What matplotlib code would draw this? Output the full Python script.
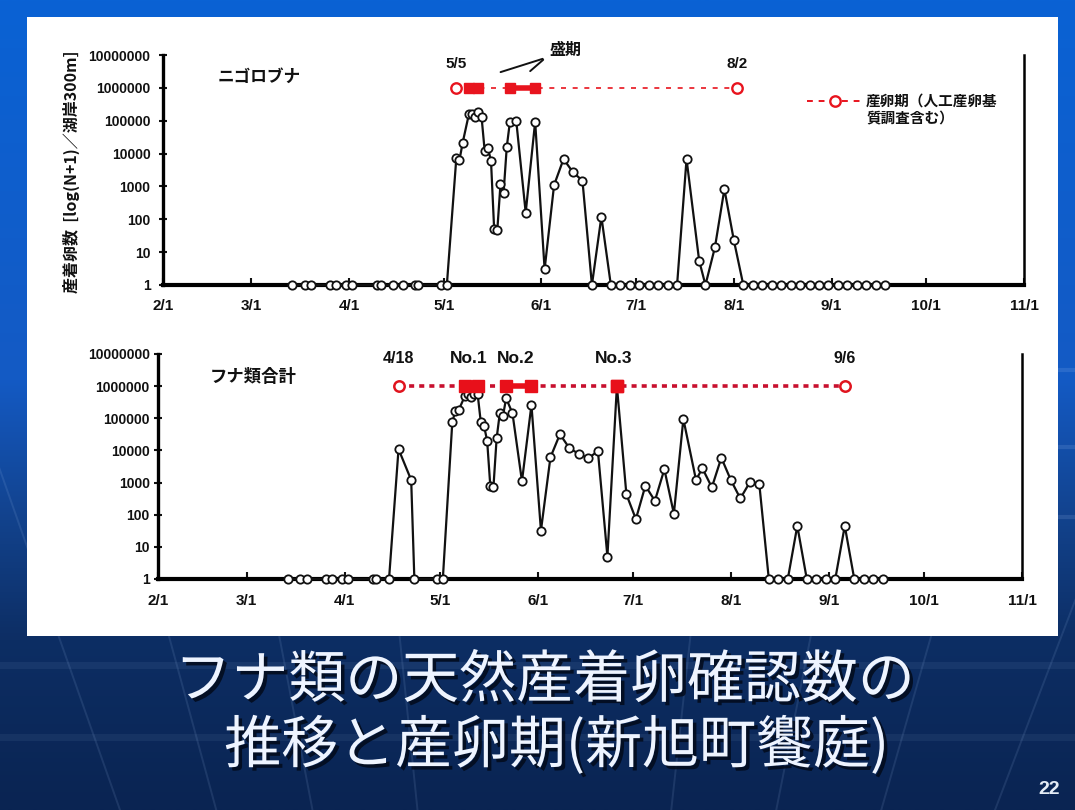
import matplotlib
matplotlib.use("Agg")
import matplotlib.pyplot as plt
import matplotlib.patheffects as pe
from matplotlib.patches import Rectangle
from matplotlib.ticker import FixedLocator, FixedFormatter, NullLocator
from datetime import datetime
import numpy as np

plt.rcParams['font.family'] = ['Liberation Sans', 'Noto Sans CJK JP', 'DejaVu Sans']

YEAR = 2009

# survey dates (month/day)
survey_dates = [
    '3/14', '3/18', '3/20', '3/26', '3/28', '3/31', '4/2', '4/10', '4/11', '4/15',
    '4/18', '4/22', '4/23', '4/30', '5/2',
    '5/5', '5/6', '5/7', '5/9', '5/10', '5/11', '5/12', '5/13', '5/14', '5/15',
    '5/16', '5/17', '5/18', '5/19', '5/20', '5/21', '5/22', '5/24', '5/27', '5/30',
    '6/2', '6/5', '6/8', '6/11', '6/14', '6/17', '6/20', '6/23', '6/26', '6/29',
    '7/2', '7/5', '7/8', '7/11', '7/14', '7/17', '7/21', '7/23', '7/26', '7/29',
    '8/1', '8/4', '8/7', '8/10', '8/13', '8/16', '8/19', '8/22', '8/25', '8/28',
    '8/31', '9/3', '9/6', '9/9', '9/12', '9/15', '9/18',
]

# attached eggs, N+1 per 300 m of shoreline
nigorobuna = [
    1, 1, 1, 1, 1, 1, 1, 1, 1, 1,
    1, 1, 1, 1, 1,
    7200, 6300, 21000, 160000, 165000, 126000, 186000, 132000, 12000, 15000,
    6000, 50, 47, 1150, 650, 16000, 93000, 100000, 160, 93000,
    3, 1100, 6800, 2700, 1500, 1, 120, 1, 1, 1,
    1, 1, 1, 1, 1, 6800, 5.5, 1, 14, 830,
    23, 1, 1, 1, 1, 1, 1, 1, 1, 1,
    1, 1, 1, 1, 1, 1, 1,
]

funa_total = [
    1, 1, 1, 1, 1, 1, 1, 1, 1, 1,
    11000, 1200, 1, 1, 1,
    79000, 170000, 180000, 500000, 560000, 450000, 590000, 560000, 75000, 59000,
    20000, 780, 750, 24000, 144000, 118000, 420000, 144000, 1100, 260000,
    32, 6100, 32000, 11700, 7800, 5700, 9600, 5, 1000000, 430,
    73, 800, 270, 2600, 107, 95000, 1200, 2800, 710, 5900,
    1200, 320, 1020, 890, 1, 1, 1, 45, 1, 1,
    1, 1, 45, 1, 1, 1, 1,
]

# spawning season (start, end) and peak periods
nigorobuna_season = ['5/5', '8/2']
nigorobuna_peaks = [('5/9', '5/12'), ('5/22', '5/30')]
funa_season = ['4/18', '9/6']
funa_peaks = [('5/9', '5/13'), ('5/22', '5/30'), ('6/26', '6/26')]
funa_peak_names = ['No.1', 'No.2', 'No.3']
season_level = 1000000

month_ticks = ['2/1', '3/1', '4/1', '5/1', '6/1', '7/1', '8/1', '9/1', '10/1', '11/1']
y_ticks = [1, 10, 100, 1000, 10000, 100000, 1000000, 10000000]
y_tick_labels = ['1', '10', '100', '1000', '10000', '100000', '1000000', '10000000']

W, H = 1075, 810


def to_date(s):
    m, d = s.split('/')
    return datetime(YEAR, int(m), int(d))


def px_box(left, top, right, bottom):
    return [left / W, 1 - bottom / H, (right - left) / W, (bottom - top) / H]


fig = plt.figure(figsize=(W / 100, H / 100), dpi=100)

# ---- slide background ----
bg = fig.add_axes([0, 0, 1, 1], zorder=0)
bg.set_xlim(0, W)
bg.set_ylim(H, 0)
bg.axis('off')
stops_y = np.array([0, 380, 520, 640, 810]) / H
stops_c = np.array([[10, 98, 212], [20, 90, 196], [18, 66, 140], [13, 46, 100], [10, 36, 82]]) / 255
yy = np.linspace(0, 1, 400)
grad = np.stack([np.interp(yy, stops_y, stops_c[:, k]) for k in range(3)], axis=-1)
bg.imshow(grad[:, None, :], extent=[0, W, H, 0], aspect='auto', interpolation='bilinear')
for x0 in [-260, -90, 60, 170, 280, 400, 690, 810, 930, 1060, 1210]:
    ys = np.array([200, 810])
    xs = x0 + (540 - x0) * (ys - 640) / (2000 - 640)
    bg.plot(xs, ys, color='#a8c8f4', alpha=0.12, lw=1.4)
for yb in [665, 737]:
    bg.plot([0, W], [yb, yb], color='#a8c8f4', alpha=0.07, lw=5)
for yb in [370, 447, 517]:
    bg.plot([1058, W], [yb, yb], color='#a8c8f4', alpha=0.15, lw=3)
bg.add_patch(Rectangle((27, 17), 1031, 619, facecolor='white', edgecolor='none', zorder=3))

title_fx = [pe.withSimplePatchShadow(offset=(2.5, -2.5), shadow_rgbFace='#020a1a', alpha=0.85)]
bg.text(545, 681, 'フナ類の天然産着卵確認数の', fontsize=41, color='#eef4ff',
        family=['Noto Sans CJK JP'], ha='center', va='center', zorder=4, path_effects=title_fx)
bg.text(557, 746, '推移と産卵期(新旭町饗庭)', fontsize=41, color='#eef4ff',
        family=['Noto Sans CJK JP'], ha='center', va='center', zorder=4, path_effects=title_fx)
bg.text(1049, 790, '22', fontsize=14, fontweight='bold', color='#e4ecf6',
        ha='center', va='center', zorder=4)

dates = [to_date(s) for s in survey_dates]
black = '#111111'
cjk_bold = dict(family=['Noto Sans CJK JP'], fontweight='bold', color=black)


def setup_axes(ax, xpad, ypad):
    ax.set_facecolor('none')
    ax.set_yscale('log')
    ax.set_ylim(y_ticks[0], y_ticks[-1])
    ax.set_xlim(to_date(month_ticks[0]), to_date(month_ticks[-1]))
    ax.yaxis.set_major_locator(FixedLocator(y_ticks))
    ax.yaxis.set_major_formatter(FixedFormatter(y_tick_labels))
    ax.yaxis.set_minor_locator(NullLocator())
    ax.set_xticks([to_date(s) for s in month_ticks])
    ax.set_xticklabels(month_ticks)
    ax.spines['top'].set_visible(False)
    ax.spines['left'].set_linewidth(2.4)
    ax.spines['bottom'].set_linewidth(3.0)
    ax.spines['right'].set_linewidth(1.8)
    ax.tick_params(axis='x', direction='in', length=5, width=1.5, pad=xpad,
                   labelsize=11, colors=black)
    ax.tick_params(axis='y', direction='inout', length=6, width=1.5, pad=ypad,
                   labelsize=10, colors=black)
    for lab in ax.get_xticklabels() + ax.get_yticklabels():
        lab.set_fontweight('bold')


def draw_counts(ax, values):
    ax.plot(dates, values, color=black, lw=1.6, marker='o', ms=6, mfc='white',
            mec=black, mew=1.3, clip_on=False, zorder=4)


# ---- upper panel: ニゴロブナ ----
ax1 = fig.add_axes(px_box(163, 55, 1024, 285), zorder=5)
setup_axes(ax1, xpad=10, ypad=6)
draw_counts(ax1, nigorobuna)
red_top = '#e8141e'
ax1.plot([to_date(s) for s in nigorobuna_season], [season_level] * 2, color=red_top, lw=1.2,
         ls=(0, (3, 4)), marker='o', ms=7.5, mfc='white', mec=red_top, mew=1.7, zorder=5,
         clip_on=False)
for s, e in nigorobuna_peaks:
    ax1.plot([to_date(s), to_date(e)], [season_level] * 2, color=red_top, lw=4,
             solid_capstyle='butt', marker='s', ms=7.5, mfc=red_top, mec=red_top, zorder=6)
for s in nigorobuna_season:
    ax1.annotate(s, (to_date(s), season_level), xytext=(0, 17), textcoords='offset points',
                 ha='center', va='center', fontsize=11, fontweight='bold', color=black)
ax1.text(0.064, 0.904, 'ニゴロブナ', transform=ax1.transAxes, fontsize=12, va='center', **cjk_bold)
ax1.text(0.468, 1.022, '盛期', transform=ax1.transAxes, fontsize=11.5, ha='center',
         va='center', **cjk_bold)
for xe in [0.389, 0.424]:
    ax1.annotate('', xy=(xe, 0.922), xytext=(0.444, 0.987), xycoords='axes fraction',
                 arrowprops=dict(arrowstyle='-', color=black, lw=1.4))

# legend sample
ax1.plot([0.748, 0.780, 0.812], [0.80] * 3, transform=ax1.transAxes, color=red_top, lw=1.4,
         ls=(0, (3, 3)), marker='o', markevery=[1], ms=7.5, mfc='white', mec=red_top, mew=1.7,
         clip_on=False)
ax1.text(0.8165, 0.80, '産卵期（人工産卵基', transform=ax1.transAxes, fontsize=10.5,
         va='center', **cjk_bold)
ax1.text(0.8165, 0.722, '質調査含む）', transform=ax1.transAxes, fontsize=10.5,
         va='center', **cjk_bold)

fig.text(71 / W, 1 - 172 / H, '産着卵数  [log(N+1)／湖岸300m]', rotation=90, ha='center',
         va='center', fontsize=11.5, fontweight='bold', color=black,
         family=['Noto Sans CJK JP'])

# ---- lower panel: フナ類合計 ----
ax2 = fig.add_axes(px_box(158, 354, 1022, 579), zorder=5)
setup_axes(ax2, xpad=11, ypad=3)
draw_counts(ax2, funa_total)
red_bot = '#c8102e'
ax2.plot([to_date(s) for s in funa_season], [season_level] * 2, color=red_bot, lw=2.6,
         ls=(0, (1.4, 1.4)), marker='o', ms=7.5, mfc='white', mec='#e0141e', mew=1.8, zorder=5,
         clip_on=False)
for (s, e), name in zip(funa_peaks, funa_peak_names):
    ax2.plot([to_date(s), to_date(e)], [season_level] * 2, color='#e8101a', lw=4,
             solid_capstyle='butt', marker='s', ms=8, mfc='#e8101a', mec='#e8101a', zorder=6)
    mid = to_date(s) + (to_date(e) - to_date(s)) / 2
    ax2.annotate(name, (mid, season_level), xytext=(-2, 20), textcoords='offset points',
                 ha='center', va='center', fontsize=12.5, fontweight='bold', color=black)
for s in funa_season:
    ax2.annotate(s, (to_date(s), season_level), xytext=(0, 20), textcoords='offset points',
                 ha='center', va='center', fontsize=11.5, fontweight='bold', color=black)
ax2.text(0.060, 0.898, 'フナ類合計', transform=ax2.transAxes, fontsize=12.5, va='center', **cjk_bold)

fig.savefig('out.png', dpi=100)
